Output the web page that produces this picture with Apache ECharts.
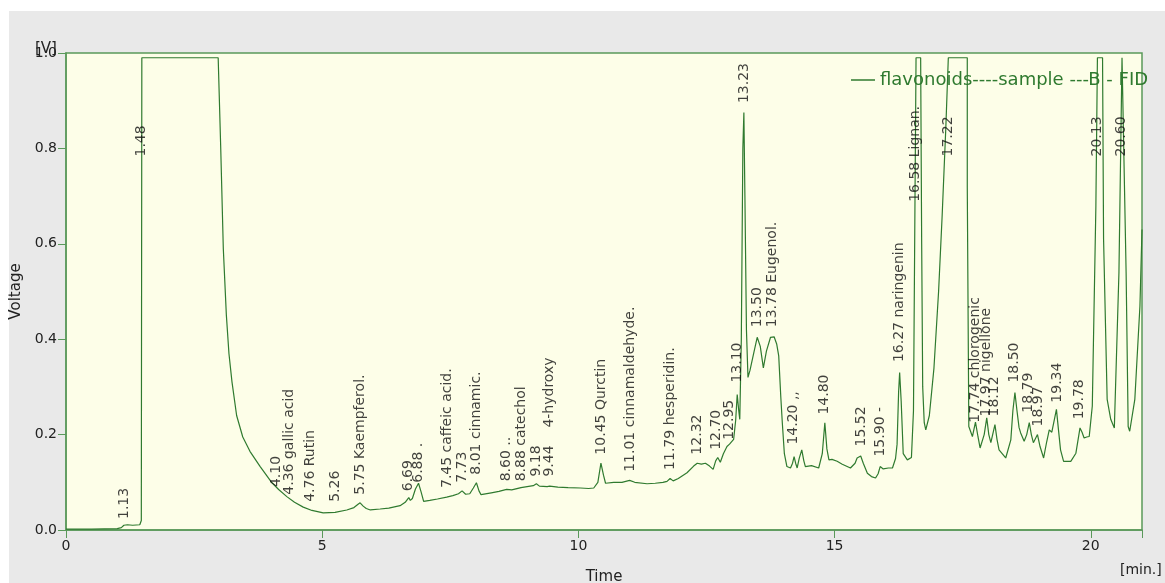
<!DOCTYPE html>
<html>
<head>
<meta charset="utf-8">
<script src="https://cdn.jsdelivr.net/npm/echarts@6/dist/echarts.min.js"></script>
<style>
  html, body { margin: 0; padding: 0; background: #fff; }
  #chart {
    width: 1165px; height: 583px;
    background:
      linear-gradient(#fff, #fff) 0 0 / 100% 11px no-repeat,
      linear-gradient(#fff, #fff) 0 0 / 9px 100% no-repeat,
      #e9e9e9;
  }
</style>
</head>
<body>
<div id="chart"></div>
<script>
// FID detector trace: [time (min), voltage (V)]
const trace = [
  [0, 0.002], [0.5, 0.002], [1.0, 0.003], [1.08, 0.005], [1.13, 0.010], [1.2, 0.011], [1.3, 0.010],
  [1.44, 0.011], [1.47, 0.02], [1.48, 0.99], [2.97, 0.99],
  [3.02, 0.80], [3.07, 0.59], [3.13, 0.45], [3.18, 0.37], [3.24, 0.31], [3.33, 0.24], [3.45, 0.195],
  [3.59, 0.165], [3.79, 0.133], [4.02, 0.099], [4.15, 0.085], [4.31, 0.070], [4.46, 0.058],
  [4.63, 0.048], [4.8, 0.041], [5.02, 0.036], [5.25, 0.037], [5.48, 0.042], [5.62, 0.047],
  [5.70, 0.054], [5.74, 0.057], [5.80, 0.050], [5.86, 0.045], [5.94, 0.042], [6.13, 0.044],
  [6.3, 0.046], [6.52, 0.051], [6.62, 0.058], [6.69, 0.068], [6.72, 0.062], [6.76, 0.066],
  [6.82, 0.086], [6.88, 0.098], [6.93, 0.080], [6.98, 0.060], [7.1, 0.062], [7.25, 0.065],
  [7.43, 0.069], [7.55, 0.072], [7.66, 0.076], [7.73, 0.082], [7.80, 0.075], [7.88, 0.076],
  [7.95, 0.088], [8.01, 0.099], [8.06, 0.082], [8.10, 0.074], [8.3, 0.078], [8.45, 0.081],
  [8.60, 0.085], [8.7, 0.084], [8.88, 0.089], [9.0, 0.091], [9.12, 0.093], [9.18, 0.097],
  [9.24, 0.092], [9.39, 0.091], [9.44, 0.092], [9.6, 0.090], [9.8, 0.089], [10.04, 0.088],
  [10.2, 0.087], [10.30, 0.088], [10.38, 0.100], [10.44, 0.140], [10.49, 0.115], [10.53, 0.098],
  [10.69, 0.100], [10.85, 0.100], [11.0, 0.104], [11.1, 0.100], [11.34, 0.097], [11.5, 0.098],
  [11.65, 0.100], [11.73, 0.102], [11.79, 0.108], [11.85, 0.103], [11.95, 0.108], [12.12, 0.120],
  [12.25, 0.134], [12.32, 0.140], [12.40, 0.138], [12.48, 0.140], [12.56, 0.134], [12.63, 0.127],
  [12.68, 0.145], [12.72, 0.152], [12.77, 0.142], [12.83, 0.160], [12.90, 0.175], [12.95, 0.180],
  [13.03, 0.190], [13.07, 0.230], [13.10, 0.284], [13.13, 0.250], [13.15, 0.232], [13.18, 0.40],
  [13.21, 0.80], [13.23, 0.875], [13.25, 0.70], [13.28, 0.42], [13.31, 0.320], [13.35, 0.335],
  [13.42, 0.370], [13.49, 0.404], [13.55, 0.385], [13.61, 0.340], [13.67, 0.375], [13.75, 0.404],
  [13.82, 0.405], [13.87, 0.390], [13.91, 0.365], [13.95, 0.28], [13.98, 0.225], [14.02, 0.16],
  [14.07, 0.133], [14.14, 0.130], [14.18, 0.140], [14.21, 0.154], [14.24, 0.140], [14.27, 0.130],
  [14.31, 0.150], [14.36, 0.168], [14.40, 0.145], [14.43, 0.133], [14.55, 0.135], [14.69, 0.130],
  [14.76, 0.160], [14.81, 0.225], [14.85, 0.170], [14.89, 0.147], [14.95, 0.148], [15.05, 0.144],
  [15.15, 0.138], [15.31, 0.130], [15.40, 0.140], [15.44, 0.151], [15.51, 0.155], [15.56, 0.140],
  [15.64, 0.119], [15.72, 0.112], [15.80, 0.109], [15.85, 0.118], [15.89, 0.133], [15.95, 0.128],
  [16.05, 0.130], [16.13, 0.130], [16.19, 0.150], [16.22, 0.180], [16.25, 0.29], [16.27, 0.330],
  [16.30, 0.27], [16.34, 0.160], [16.42, 0.147], [16.50, 0.152], [16.54, 0.25], [16.57, 0.70],
  [16.59, 0.99], [16.68, 0.99], [16.70, 0.60], [16.72, 0.30], [16.75, 0.225], [16.78, 0.210],
  [16.85, 0.240], [16.94, 0.34], [17.03, 0.50], [17.10, 0.66], [17.17, 0.84], [17.22, 0.99],
  [17.59, 0.99], [17.59, 0.72], [17.62, 0.217], [17.69, 0.196], [17.75, 0.226], [17.80, 0.195],
  [17.84, 0.172], [17.92, 0.200], [17.97, 0.235], [18.01, 0.200], [18.05, 0.183], [18.13, 0.221],
  [18.17, 0.190], [18.21, 0.168], [18.34, 0.151], [18.44, 0.189], [18.48, 0.250], [18.52, 0.288],
  [18.56, 0.250], [18.60, 0.215], [18.63, 0.204], [18.70, 0.186], [18.75, 0.200], [18.80, 0.225],
  [18.84, 0.200], [18.88, 0.183], [18.96, 0.200], [19.01, 0.175], [19.08, 0.151], [19.14, 0.185],
  [19.19, 0.210], [19.24, 0.205], [19.33, 0.253], [19.37, 0.210], [19.41, 0.168], [19.47, 0.144],
  [19.61, 0.144], [19.71, 0.161], [19.79, 0.214], [19.83, 0.205], [19.87, 0.193], [19.92, 0.195],
  [19.97, 0.196], [20.03, 0.26], [20.10, 0.68], [20.13, 0.99], [20.23, 0.99], [20.25, 0.61],
  [20.32, 0.274], [20.39, 0.232], [20.46, 0.214], [20.55, 0.54], [20.61, 0.99], [20.64, 0.99],
  [20.69, 0.54], [20.73, 0.217], [20.76, 0.207], [20.86, 0.274], [20.96, 0.47], [21.0, 0.63]
];

// Integrated peaks: retention time text, compound name, height where the annotation starts
const peakTimes = ['1.13', '1.48', '4.10', '4.36', '4.76', '5.26', '5.75', '6.69', '6.88', '7.45',
  '7.73', '8.01', '8.60', '8.88', '9.18', '9.44', '10.45', '11.01', '11.79', '12.32', '12.70',
  '12.95', '13.10', '13.23', '13.50', '13.78', '14.20', '14.80', '15.52', '15.90', '16.27',
  '16.58', '17.22', '17.74', '17.97', '18.12', '18.50', '18.79', '18.97', '19.34', '19.78',
  '20.13', '20.60'];
const peakNames = ['', '', '', 'gallic acid', 'Rutin', '', 'Kaempferol.', '', '.', 'caffeic acid.',
  '', 'cinnamic.', '..', 'catechol', '', '   4-hydroxy', 'Qurctin', 'cinnamaldehyde.', 'hesperidin.', '', '',
  '', '', '', '', 'Eugenol.', ',,', '', '', '-', 'naringenin',
  'Lignan.', '', 'chlorogenic', 'nigellone', '', '', '', '', '', '',
  '', ''];
const labelLevels = [0.023, 0.783, 0.090, 0.074, 0.059, 0.059, 0.074, 0.081, 0.099, 0.088,
  0.099, 0.116, 0.102, 0.102, 0.112, 0.112, 0.158, 0.122, 0.126, 0.158, 0.168,
  0.189, 0.309, 0.895, 0.425, 0.425, 0.179, 0.242, 0.175, 0.154, 0.352,
  0.688, 0.783, 0.225, 0.238, 0.238, 0.309, 0.246, 0.217, 0.267, 0.232,
  0.783, 0.783];

const xTicks = [0, 5, 10, 15, 20];
const yTicks = [0, 0.2, 0.4, 0.6, 0.8, 1.0];
const seriesName = 'flavonoids----sample ---B - FID';

const GREEN = '#5a995a';
const LINE = '#2f7a2f';
const FONT = 'DejaVu Sans';

const peakData = peakTimes.map((t, i) => ({
  value: [parseFloat(t), labelLevels[i]],
  name: peakNames[i] ? t + ' ' + peakNames[i] : t
}));

const chart = echarts.init(document.getElementById('chart'), null, { renderer: 'canvas' });
chart.setOption({
  animation: false,
  grid: {
    left: 66, top: 53, right: 23, bottom: 53,
    outerBoundsMode: 'none',
    show: true, backgroundColor: '#fdfee8', borderColor: GREEN, borderWidth: 1.5
  },
  legend: {
    data: [{ name: seriesName, icon: 'rect' }],
    left: 846, top: 66,
    itemWidth: 24, itemHeight: 1.5, itemGap: 0,
    textStyle: { color: '#2f7a2f', fontFamily: FONT, fontSize: 18 }
  },
  xAxis: {
    type: 'value', min: 0, max: 21, interval: 5,
    name: 'Time', nameLocation: 'middle', nameGap: 40,
    nameTextStyle: { color: '#222', fontFamily: FONT, fontSize: 15 },
    axisLine: { show: true, lineStyle: { color: GREEN, width: 1.5 } },
    axisTick: { show: true, length: 8, lineStyle: { color: GREEN } },
    axisLabel: {
      color: '#222', fontFamily: FONT, fontSize: 14, margin: 9,
      formatter: v => (xTicks.indexOf(v) >= 0 ? String(v) : '')
    },
    splitLine: { show: false }
  },
  yAxis: {
    type: 'value', min: 0, max: 1, interval: 0.2,
    name: 'Voltage', nameLocation: 'middle', nameGap: 37,
    nameTextStyle: { color: '#222', fontFamily: FONT, fontSize: 15 },
    axisLine: { show: true, lineStyle: { color: GREEN, width: 1.5 } },
    axisTick: { show: true, length: 8, lineStyle: { color: GREEN } },
    axisLabel: {
      color: '#222', fontFamily: FONT, fontSize: 14, margin: 9,
      formatter: v => (yTicks.some(t => Math.abs(t - v) < 1e-9) ? v.toFixed(1) : '')
    },
    splitLine: { show: false }
  },
  graphic: [
    { type: 'text', left: 35, top: 42, style: { text: '[V]', fill: '#222', font: '15px "DejaVu Sans"' } },
    { type: 'text', left: 1120, top: 563, style: { text: '[min.]', fill: '#222', font: '14px "DejaVu Sans"' } }
  ],
  series: [
    {
      name: seriesName,
      type: 'line',
      data: trace,
      symbol: 'none',
      smooth: false,
      lineStyle: { color: LINE, width: 1.2 },
      itemStyle: { color: LINE },
      z: 3
    },
    {
      name: 'peaks',
      type: 'scatter',
      data: peakData,
      symbolSize: 1,
      itemStyle: { color: 'transparent' },
      silent: true,
      z: 4,
      label: {
        show: true,
        position: 'inside',
        rotate: 90,
        align: 'left',
        verticalAlign: 'middle',
        formatter: p => p.name,
        color: '#111',
        fontFamily: FONT,
        fontSize: 14
      }
    }
  ]
});
</script>
</body>
</html>
